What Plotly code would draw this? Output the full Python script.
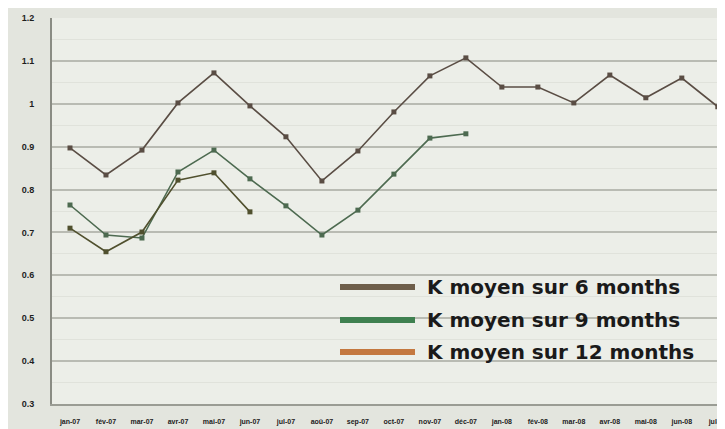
import plotly.graph_objects as go

months = ["jan-07", "fév-07", "mar-07", "avr-07", "mai-07", "jun-07", "jul-07",
          "aoû-07", "sep-07", "oct-07", "nov-07", "déc-07", "jan-08", "fév-08",
          "mar-08", "avr-08", "mai-08", "jun-08", "jul-08"]

k6 = [0.897, 0.834, 0.892, 1.002, 1.072, 0.995, 0.923, 0.820, 0.890, 0.981,
      1.065, 1.107, 1.039, 1.039, 1.002, 1.067, 1.014, 1.060, 0.993]
k9 = [0.764, 0.694, 0.687, 0.841, 0.892, 0.825, 0.762, 0.694, 0.752, 0.836,
      0.920, 0.930]
k12 = [0.710, 0.655, 0.701, 0.822, 0.839, 0.748]

legend_names = ["K moyen sur 6 months", "K moyen sur 9 months", "K moyen sur 12 months"]
legend_colors = ["#6e5e4a", "#3f8050", "#c47840"]
line_colors = ["#5a4d44", "#4d6a50", "#50502e"]

fig = go.Figure()
for vals, col in zip([k6, k9, k12], line_colors):
    fig.add_trace(go.Scatter(
        x=months[:len(vals)], y=vals, mode="lines+markers",
        line=dict(color=col, width=1.6),
        marker=dict(color=col, size=5, symbol="square"),
        showlegend=False, hoverinfo="skip"))

# page has an 8px body margin: figure starts at (8, 8) on screen
OFF = 8
W, H = 725 - OFF, 429 - OFF
# plot area in screen pixels
L, R, T, B = 52, 725, 18, 404

def px(x):
    return (x - L) / (R - L)

def py(y):
    return (B - y) / (B - T)

rows = [287, 320, 352]
for name, col, yy in zip(legend_names, legend_colors, rows):
    fig.add_shape(type="line", xref="paper", yref="paper",
                  x0=px(340), x1=px(415), y0=py(yy), y1=py(yy),
                  line=dict(color=col, width=6))
    fig.add_annotation(xref="paper", yref="paper", x=px(425), y=py(yy),
                       text=name, showarrow=False, xanchor="left", yanchor="middle",
                       font=dict(family="DejaVu Sans", size=20, color="#1a1a1a",
                                 weight="bold"))

fig.update_layout(
    width=W, height=H,
    margin=dict(l=L - OFF, r=0, t=T - OFF, b=429 - B),
    paper_bgcolor="#e3e5de",
    plot_bgcolor="#eceee8",
    showlegend=False,
    xaxis=dict(
        type="category", range=[-0.5, 18.2], automargin=False,
        showgrid=False, showline=True, linecolor="#9a9c94", linewidth=2,
        ticks="", ticklabelstandoff=10,
        tickfont=dict(family="Liberation Sans", size=7, color="#222222", weight="bold"),
        tickangle=0,
    ),
    yaxis=dict(
        range=[0.3, 1.2], dtick=0.1, tick0=0.3, automargin=False,
        showgrid=True, gridcolor="#b9bbb3", gridwidth=2,
        showline=True, linecolor="#8a8c84", linewidth=2,
        ticks="", ticklabelstandoff=14,
        tickfont=dict(family="Liberation Sans", size=9, color="#1e1e1e", weight="bold"),
        zeroline=False,
        minor=dict(dtick=0.05, showgrid=True, gridcolor="#e0e2db", gridwidth=1),
    ),
)

fig.write_html("out.html")
